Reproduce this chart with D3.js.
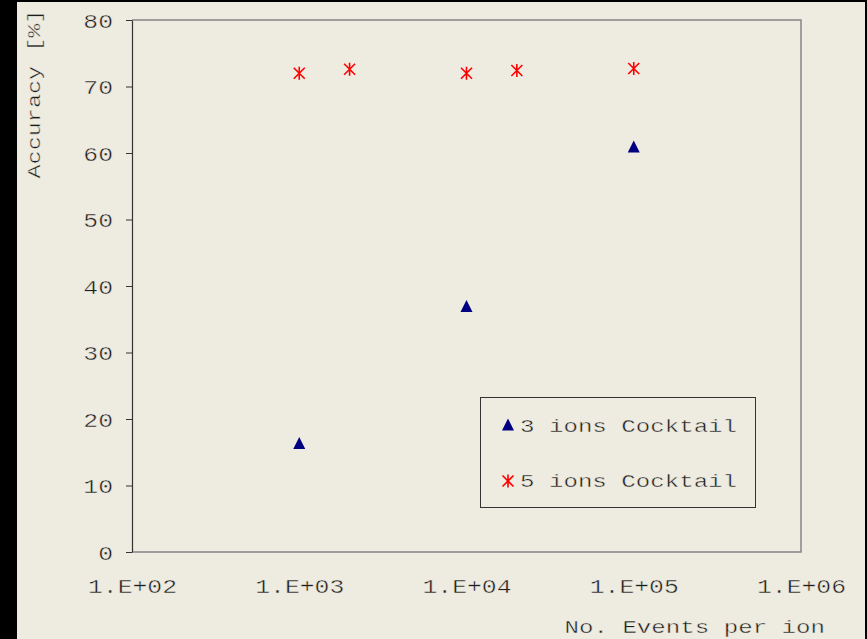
<!DOCTYPE html>
<html lang="en">

<head>
    <meta charset="UTF-8">
    <title>Accuracy vs events</title>
    <style>
        body { margin: 0; background: #000; }
        text {
            font-family: "Liberation Mono", monospace;
            fill: #1c1c1c;
            stroke: #eeebe0;
            stroke-width: 0.4px;
        }
    </style>
</head>

<body>
    <div id="my_dataviz"></div>

    <script src="https://d3js.org/d3.v7.min.js"></script>
    <script>

        // data
        const events3 = [1e3, 1e4, 1e5];
        const accuracy3 = [16.3, 36.9, 60.9];
        const events5 = [1e3, 2e3, 1e4, 2e4, 1e5];
        const accuracy5 = [72.0, 72.6, 72.0, 72.4, 72.7];
        const xTicks = [1e2, 1e3, 1e4, 1e5, 1e6];
        const yTicks = [0, 10, 20, 30, 40, 50, 60, 70, 80];
        const seriesNames = ["3 ions Cocktail", "5 ions Cocktail"];

        const W = 867, H = 639;
        const plotL = 132, plotR = 801, plotT = 20, plotB = 552;
        const stretch = 1.27;

        const svg = d3.select("#my_dataviz")
            .append("svg")
            .attr("width", W)
            .attr("height", H)
            .style("display", "block");

        // black frame + beige page
        svg.append("rect").attr("width", W).attr("height", H).attr("fill", "#000");
        svg.append("rect").attr("x", 17).attr("y", 2).attr("width", 848).attr("height", H - 2).attr("fill", "#eeebe0");

        const x = d3.scaleLog().domain([1e2, 1e6]).range([plotL, plotR]);
        const y = d3.scaleLinear().domain([0, 80]).range([plotB, plotT]);

        // widen glyphs like the original
        function widen(sel) {
            sel.each(function () {
                const t = d3.select(this);
                const tx = +t.attr("x") || 0, ty = +t.attr("y") || 0;
                t.attr("x", 0).attr("y", 0)
                    .attr("transform", `translate(${tx},${ty}) scale(${stretch},1)`);
            });
        }

        // plot frame (top/right/bottom)
        svg.append("path")
            .attr("d", `M${plotL},${plotT}H${plotR}V${plotB}H${plotL}`)
            .attr("fill", "none")
            .attr("stroke", "#858585")
            .attr("stroke-width", 1.5);

        // y axis
        const yAxis = svg.append("g")
            .attr("transform", `translate(${plotL},0)`)
            .call(d3.axisLeft(y).tickValues(yTicks).tickSize(6).tickPadding(13).tickSizeOuter(0));
        yAxis.select(".domain").attr("stroke", "#333").attr("stroke-width", 1.2);
        yAxis.selectAll(".tick line").attr("stroke", "#333");
        yAxis.selectAll("text")
            .attr("font-size", 19.5).attr("font-family", null).attr("fill", null)
            .attr("dy", "0.36em")
            .call(widen);

        // x axis (labels only)
        const xAxis = svg.append("g")
            .attr("transform", `translate(0,${plotB})`)
            .call(d3.axisBottom(x).tickValues(xTicks).tickSize(0).tickPadding(27)
                .tickFormat(d => "1.E+" + String(Math.round(Math.log10(d))).padStart(2, "0")));
        xAxis.select(".domain").remove();
        xAxis.selectAll("text")
            .attr("font-size", 19.5).attr("font-family", null).attr("fill", null)
            .call(widen);

        // axis titles
        svg.append("text")
            .attr("transform", `translate(40,94) rotate(-90) scale(${stretch},1)`)
            .attr("text-anchor", "middle")
            .attr("font-size", 18.5)
            .text("Accuracy [%]");

        svg.append("text")
            .attr("transform", `translate(825,633) scale(${stretch},1)`)
            .attr("text-anchor", "end")
            .attr("font-size", 19)
            .text("No. Events per ion");

        const triangle = "M0,-6.5L6,5.5L-6,5.5Z";
        const star = "M0,-6.5V6.5M-5.5,-5.5L5.5,5.5M-5.5,5.5L5.5,-5.5";

        // 3 ions series
        svg.append("g")
            .selectAll("path")
            .data(events3.map((e, i) => [e, accuracy3[i]]))
            .join("path")
            .attr("transform", d => `translate(${x(d[0])},${y(d[1])})`)
            .attr("d", triangle)
            .attr("fill", "#000080");

        // 5 ions series
        svg.append("g")
            .selectAll("path")
            .data(events5.map((e, i) => [e, accuracy5[i]]))
            .join("path")
            .attr("transform", d => `translate(${x(d[0])},${y(d[1])})`)
            .attr("d", star)
            .attr("fill", "none")
            .attr("stroke", "#ff0000")
            .attr("stroke-width", 1.6);

        // legend
        const legend = svg.append("g");
        legend.append("rect")
            .attr("x", 480.5).attr("y", 397.5)
            .attr("width", 275).attr("height", 110)
            .attr("fill", "none").attr("stroke", "#333").attr("stroke-width", 1);

        legend.append("path").attr("d", triangle)
            .attr("transform", "translate(508,425)")
            .attr("fill", "#000080");
        legend.append("path").attr("d", star)
            .attr("transform", "translate(508,481)")
            .attr("fill", "none").attr("stroke", "#ff0000").attr("stroke-width", 1.6);

        legend.selectAll("text")
            .data(seriesNames)
            .join("text")
            .attr("transform", (d, i) => `translate(520,${432 + i * 55}) scale(${stretch},1)`)
            .attr("font-size", 19)
            .text(d => d);

    </script>

</body>

</html>
